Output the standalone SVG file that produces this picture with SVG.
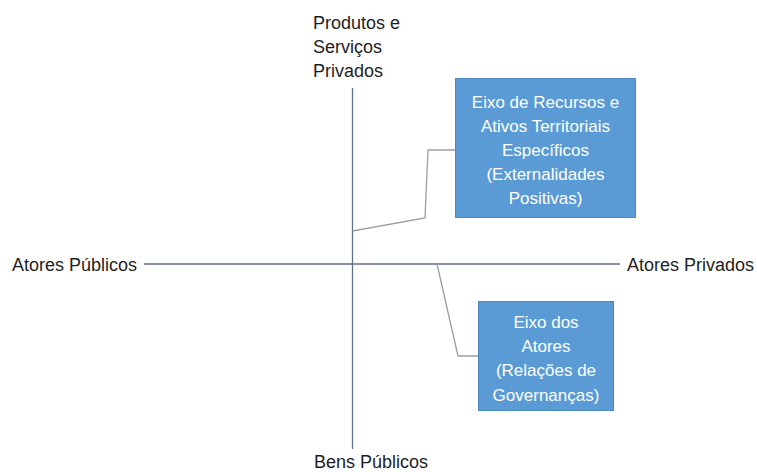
<svg xmlns="http://www.w3.org/2000/svg" width="757" height="472" viewBox="0 0 757 472">
<style>
.lbl{font-family:"Liberation Sans",Arial,sans-serif;font-size:18px;fill:#1e1e1e}
.box{fill:#5b9bd5;stroke:#4a86c0;stroke-width:1}
.bt{font-family:"Liberation Sans",Arial,sans-serif;font-size:17px;fill:#ffffff;text-anchor:middle}
.axis{stroke:#5f6f8c;stroke-width:1.3;fill:none}
.conn{stroke:#9a9fa6;stroke-width:1.3;fill:none}
</style>
<rect width="757" height="472" fill="#ffffff"/>
<g id="axes">
<line class="axis" x1="352.5" y1="88" x2="352.5" y2="449"/>
<line class="axis" x1="144" y1="264" x2="620" y2="264"/>
</g>
<g id="connectors">
<polyline class="conn" points="352.5,231 425,218 428,150 455,150"/>
<polyline class="conn" points="437,264 458,356 478,356"/>
</g>
<g id="label-top">
<text class="lbl" x="313" y="29">Produtos e</text>
<text class="lbl" x="313" y="53">Serviços</text>
<text class="lbl" x="313" y="77">Privados</text>
</g>
<g id="label-left"><text class="lbl" x="12" y="271">Atores Públicos</text></g>
<g id="label-right"><text class="lbl" x="627" y="271">Atores Privados</text></g>
<g id="label-bottom"><text class="lbl" x="314" y="468">Bens Públicos</text></g>
<g id="box-recursos">
<rect class="box" x="455.5" y="78.5" width="180" height="139"/>
<text class="bt" x="545.5" y="108">Eixo de Recursos e</text>
<text class="bt" x="545.5" y="132">Ativos  Territoriais</text>
<text class="bt" x="545.5" y="156">Específicos</text>
<text class="bt" x="545.5" y="180">(Externalidades</text>
<text class="bt" x="545.5" y="204">Positivas)</text>
</g>
<g id="box-atores">
<rect class="box" x="478.5" y="301.5" width="135" height="109"/>
<text class="bt" x="546" y="328">Eixo dos</text>
<text class="bt" x="546" y="352">Atores</text>
<text class="bt" x="546" y="376">(Relações de</text>
<text class="bt" x="546" y="401">Governanças)</text>
</g>
</svg>
